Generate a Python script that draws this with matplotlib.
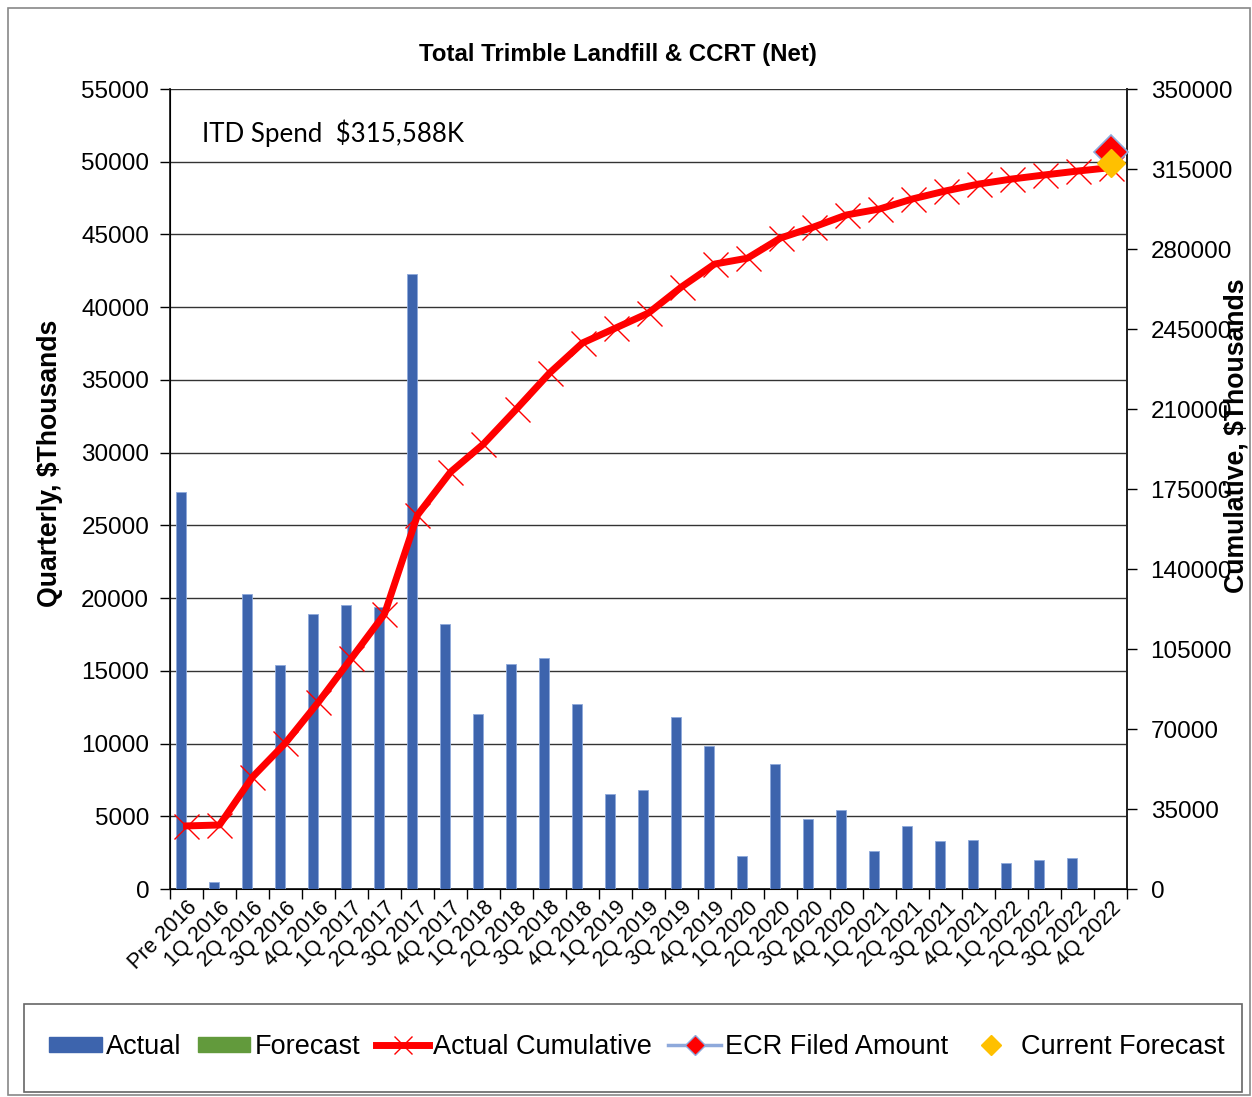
import matplotlib
matplotlib.use("Agg")
import matplotlib.pyplot as plt
import numpy as np
from matplotlib.patches import Rectangle, Patch
from matplotlib.lines import Line2D

categories = ["Pre 2016", "1Q 2016", "2Q 2016", "3Q 2016", "4Q 2016", "1Q 2017", "2Q 2017",
              "3Q 2017", "4Q 2017", "1Q 2018", "2Q 2018", "3Q 2018", "4Q 2018", "1Q 2019",
              "2Q 2019", "3Q 2019", "4Q 2019", "1Q 2020", "2Q 2020", "3Q 2020", "4Q 2020",
              "1Q 2021", "2Q 2021", "3Q 2021", "4Q 2021", "1Q 2022", "2Q 2022", "3Q 2022",
              "4Q 2022"]
actual = [27300, 500, 20300, 15400, 18900, 19500, 19400, 42300, 18200, 12000, 15500, 15900,
          12700, 6500, 6800, 11800, 9800, 2300, 8600, 4800, 5400, 2600, 4300, 3300, 3400,
          1800, 2000, 2100, 0]
forecast = [0] * 29
cumulative = [27600, 28000, 49000, 63900, 81800, 101000, 120300, 163600, 182400, 194700,
              210000, 225700, 238900, 245400, 252000, 263400, 273400, 276000, 284800, 289600,
              294900, 297500, 301900, 305400, 308400, 310600, 312400, 314100, 315588]
ecr_filed = 322400
current_forecast = 317600

W, H = 1252, 1097
fig = plt.figure(figsize=(W / 100, H / 100), dpi=100)
FONT = ["Liberation Sans", "DejaVu Sans"]
plt.rcParams["font.family"] = FONT

L, R, T, B = 170, 1127, 89, 889
ax = fig.add_axes([L / W, 1 - B / H, (R - L) / W, (B - T) / H])
x = np.arange(len(categories))
ax.bar(x - 0.165, actual, width=0.3, color="#3D64AD", edgecolor="#8EA9DB", linewidth=0.6, zorder=3)
ax.bar(x + 0.165, forecast, width=0.3, color="#629A3C", zorder=3)
ax.set_xlim(-0.5, len(categories) - 0.5)
ax.set_ylim(0, 55000)
ax.set_yticks(np.arange(0, 55001, 5000))
ax.set_yticklabels([str(v) for v in range(0, 55001, 5000)], fontsize=17.5)
ax.grid(axis="y", color="#333333", linewidth=1.0, zorder=0)
ax.set_axisbelow(True)
ax.set_xticks(x)
ax.set_xticklabels(categories, rotation=45, ha="right", rotation_mode="anchor", fontsize=15.5)
ax.tick_params(axis="x", length=0, pad=6)
ax.set_xticks(np.arange(-0.5, len(categories)), minor=True)
ax.tick_params(axis="x", which="minor", length=7, width=1, direction="out")
ax.tick_params(axis="y", length=7, width=1, pad=8)
for s in ["left", "bottom", "right"]:
    ax.spines[s].set_color("#222222")
    ax.spines[s].set_linewidth(1.3)
ax.spines["top"].set_visible(False)

ax2 = ax.twinx()
ax2.set_ylim(0, 350000)
ax2.set_yticks(np.arange(0, 350001, 35000))
ax2.set_yticklabels([str(v) for v in range(0, 350001, 35000)], fontsize=17.5)
ax2.tick_params(axis="y", length=7, width=1, pad=10)
ax2.spines["right"].set_color("#222222")
ax2.spines["right"].set_linewidth(1.3)
ax2.spines["top"].set_visible(False)
ax2.plot(x, cumulative, color="#FF0000", linewidth=5, marker="x", markersize=18,
         markeredgewidth=1.0, markeredgecolor="#FF0000", zorder=4, clip_on=False)
ax2.plot([x[-1]], [ecr_filed], linestyle="none", marker="D", markersize=17, color="#FF0000",
         markeredgecolor="#8EA9DB", markeredgewidth=1.2, zorder=5, clip_on=False)
ax2.plot([x[-1]], [current_forecast], linestyle="none", marker="D", markersize=14, color="#FFC000",
         markeredgecolor="#FFC000", zorder=6, clip_on=False)

fig.text(618 / W, 1 - 54 / H, "Total Trimble Landfill & CCRT (Net)", ha="center", va="center",
         fontsize=17.3, fontweight="bold")
fig.text(202 / W, 1 - 133 / H, "ITD Spend  $315,588K", ha="left", va="center", fontsize=18.6,
         family=["Lato", "DejaVu Sans"])
fig.text(50 / W, 1 - 463 / H, "Quarterly, $Thousands", rotation=90, ha="center", va="center",
         fontsize=19.2, fontweight="bold")
fig.text(1237 / W, 1 - 436 / H, "Cumulative, $Thousands", rotation=90, ha="center", va="center",
         fontsize=19.2, fontweight="bold")

# outer frame and legend frame
fig.patches.append(Rectangle((8 / W, 1 - 1095 / H), (1250 - 8) / W, (1095 - 8) / H,
                             transform=fig.transFigure, fill=False, edgecolor="#888888", lw=1.2))
fig.patches.append(Rectangle((24 / W, 1 - 1092 / H), (1242 - 24) / W, (1092 - 1004) / H,
                             transform=fig.transFigure, fill=False, edgecolor="#666666", lw=1.2))

handles = [
    Patch(facecolor="#3D64AD", edgecolor="#3D64AD"),
    Patch(facecolor="#629A3C", edgecolor="#629A3C"),
    Line2D([], [], color="#FF0000", linewidth=5, marker="x", markersize=13, markeredgewidth=1.0),
    Line2D([], [], color="#8EA9DB", linewidth=2.5, marker="D", markersize=10, markerfacecolor="#FF0000",
           markeredgecolor="#8EA9DB"),
    Line2D([], [], linestyle="none", marker="D", markersize=10, color="#FFC000"),
]
labels = ["Actual", "Forecast", "Actual Cumulative", "ECR Filed Amount", "Current Forecast"]
fig.legend(handles, labels, loc="center", bbox_to_anchor=(637 / W, 1 - 1047 / H), ncol=5,
           frameon=False, fontsize=19.5, handlelength=1.95, handleheight=0.5, handletextpad=0.15,
           columnspacing=0.6)

fig.savefig("out.png", dpi=100)
